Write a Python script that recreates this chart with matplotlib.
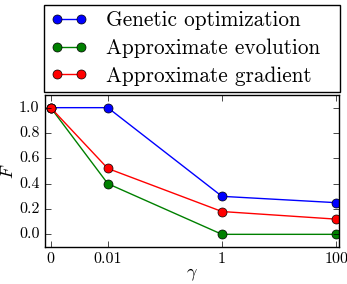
import matplotlib
matplotlib.use("Agg")
import matplotlib.pyplot as plt
import numpy as np

plt.style.use("classic")
plt.rcParams['font.family'] = ['cmr10', 'DejaVu Serif']
plt.rcParams['mathtext.fontset'] = 'cm'
plt.rcParams['axes.formatter.use_mathtext'] = True

gamma_labels = ["0", "0.01", "1", "100"]
gamma_pos = [0, 1, 3, 5]
genetic = [1.0, 1.0, 0.30, 0.25]
approx_evo = [1.0, 0.40, 0.0, 0.0]
approx_grad = [1.0, 0.52, 0.18, 0.12]

fig = plt.figure(figsize=(3.47, 2.84), dpi=100)
fig.patch.set_facecolor('white')
ax = fig.add_axes([45/347, 37/284, 294/347, 152/284])

kw = dict(ms=6.5, mec='k', mew=0.5, lw=1.0)
ax.plot(gamma_pos, genetic, 'o-', color='b', label='Genetic optimization', **kw)
ax.plot(gamma_pos, approx_evo, 'o-', color='g', label='Approximate evolution', **kw)
ax.plot(gamma_pos, approx_grad, 'o-', color='r', label='Approximate gradient', **kw)

ax.set_xlim(-0.1, 5.05)
ax.set_ylim(-0.1, 1.1)
ax.set_xticks(gamma_pos)
ax.set_xticklabels(gamma_labels)
ax.set_yticks([0.0, 0.2, 0.4, 0.6, 0.8, 1.0])
ax.set_yticklabels(["0.0", "0.2", "0.4", "0.6", "0.8", "1.0"])
ax.tick_params(labelsize=11.5)
ax.set_xlabel(r'$\gamma$', fontsize=13, labelpad=0)
ax.set_ylabel(r'$F$', fontsize=13, labelpad=2)

leg = fig.legend(loc='lower left', bbox_to_anchor=(44/347, 192/284, 296/347, 90/284),
                 mode='expand', borderaxespad=0, numpoints=2, fontsize=15.3,
                 handlelength=1.75, handletextpad=0.85, labelspacing=0.38, borderpad=0.3)
leg.get_frame().set_edgecolor('k')

fig.savefig('out.png', dpi=100, facecolor='white')
